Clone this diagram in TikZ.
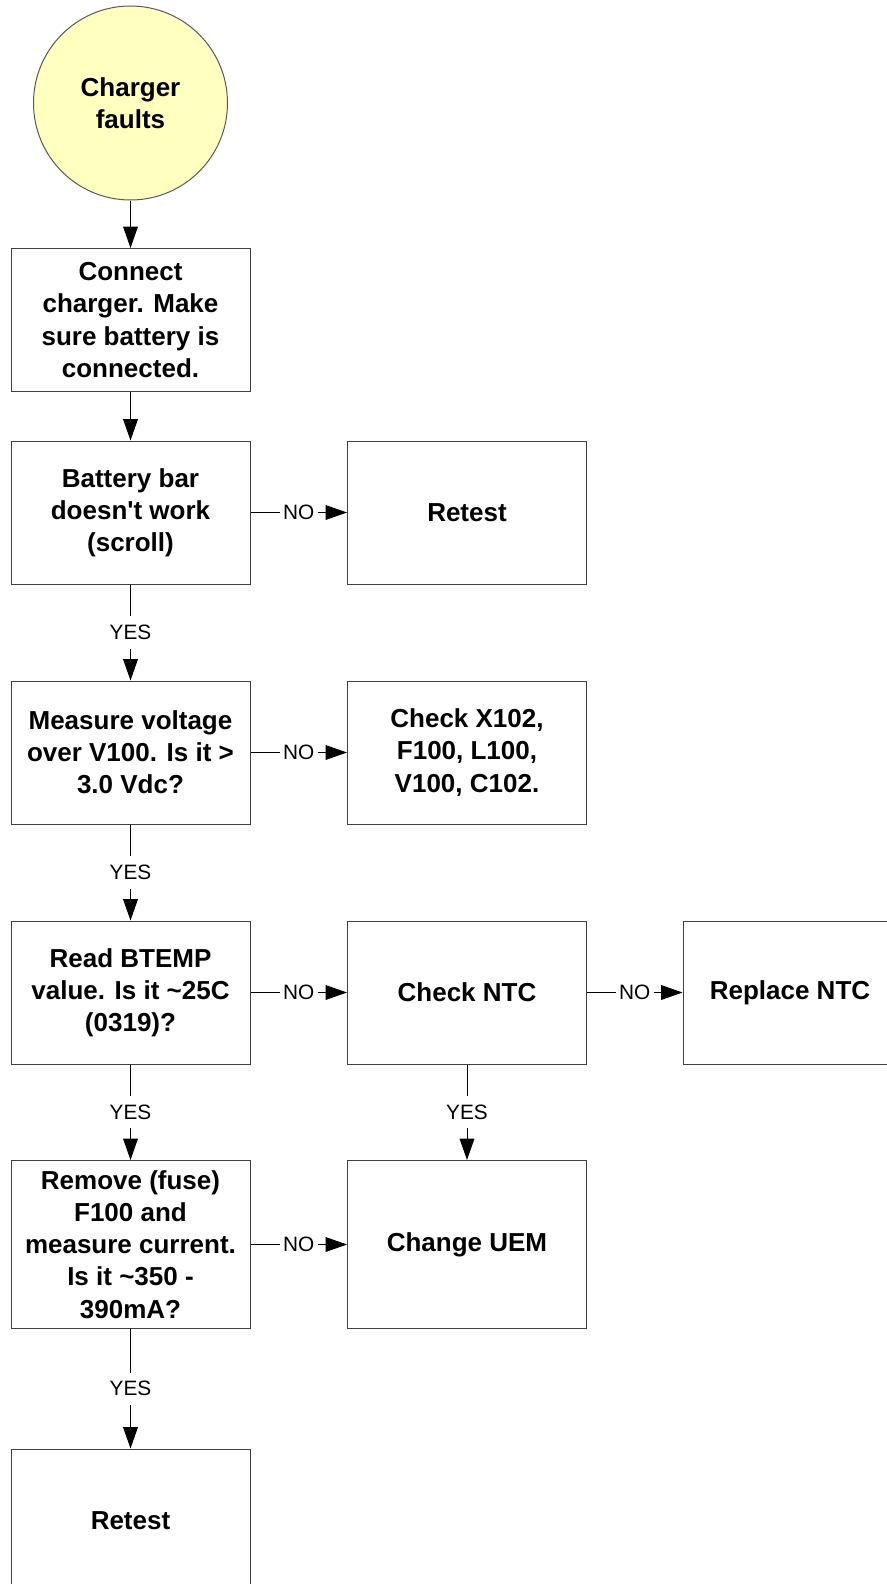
\documentclass[tikz,border=0pt]{standalone}
\usepackage{fontspec}
\setmainfont{Liberation Sans}
\usetikzlibrary{arrows.meta}
\definecolor{startyellow}{RGB}{255,255,192}

\begin{document}
\begin{tikzpicture}[x=0.75pt, y=-0.75pt,
		box/.style={draw=black!75, line width=0.75pt, minimum width=179.25pt, minimum height=107.25pt, inner sep=0pt, align=center, font=\bfseries\fontsize{19.5pt}{24.1pt}\selectfont},
		startnode/.style={circle, draw=black!65, fill=startyellow, line width=0.75pt, minimum size=145.5pt, inner sep=0pt, align=center, font=\bfseries\fontsize{19.5pt}{24.1pt}\selectfont},
		link/.style={line width=0.75pt, -{Triangle[length=16pt, width=11pt]}},
		lbl/.style={fill=white, inner xsep=2.5pt, inner ysep=6.5pt, font=\fontsize{15.6pt}{18pt}\selectfont}]
			%%%%% START %%%%%
			
			\clip (0, 0) rectangle (887, 1584);
			
			\node[startnode] (faults) at (130.5, 103) {Charger\\faults};
			
			\node[box] (connect) at (130.5, 320) {Connect\\charger. Make\\sure battery is\\connected.};
			\node[box] (batbar) at (130.5, 512.5) {Battery bar\\doesn\textquotesingle t work\\(scroll)};
			\node[box] (retesta) at (467, 512.5) {Retest};
			
			\node[box] (voltage) at (130.5, 752.5) {Measure voltage\\over V100. Is it >\\3.0 Vdc?};
			\node[box] (checkx) at (467, 752.5) {Check X102,\\F100, L100,\\V100, C102.};
			
			\node[box] (btemp) at (130.5, 992.5) {Read BTEMP\\value. Is it \textasciitilde25C\\(0319)?};
			\node[box] (checkntc) at (467, 992.5) {Check NTC};
			\node[box, minimum width=160.5pt] (replntc) at (790, 992.5) {Replace NTC};
			
			\node[box, minimum height=126pt] (fuse) at (130.5, 1244.5) {Remove (fuse)\\F100 and\\measure current.\\Is it \textasciitilde350 -\\390mA?};
			\node[box, minimum height=126pt] (uem) at (467, 1244.5) {Change UEM};
			
			\node[box] (retestb) at (130.5, 1520.5) {Retest};
			
			\draw[link] (faults) -- (connect);
			\draw[link] (connect) -- (batbar);
			\draw[link] (batbar) -- node[lbl] {NO} (retesta);
			\draw[link] (batbar) -- node[lbl] {YES} (voltage);
			\draw[link] (voltage) -- node[lbl] {NO} (checkx);
			\draw[link] (voltage) -- node[lbl] {YES} (btemp);
			\draw[link] (btemp) -- node[lbl] {NO} (checkntc);
			\draw[link] (checkntc) -- node[lbl] {NO} (replntc);
			\draw[link] (checkntc) -- node[lbl] {YES} (uem);
			\draw[link] (btemp) -- node[lbl] {YES} (fuse);
			\draw[link] (fuse) -- node[lbl] {NO} (uem);
			\draw[link] (fuse) -- node[lbl] {YES} (retestb);
			
			%%%%% END %%%%%
\end{tikzpicture}
\end{document}
